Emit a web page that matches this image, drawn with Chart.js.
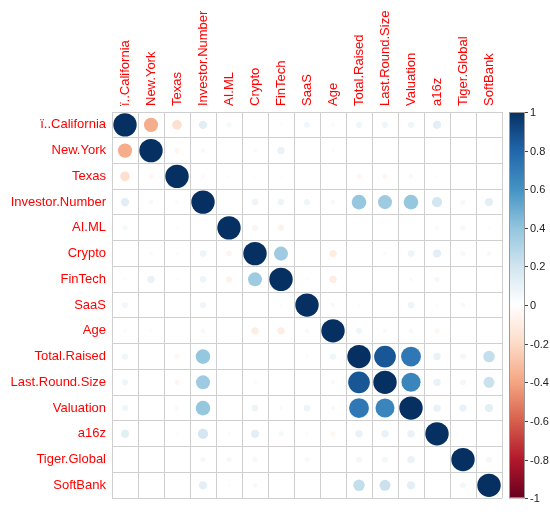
<!DOCTYPE html>
<html>
<head>
<meta charset="utf-8">
<script src="https://cdn.jsdelivr.net/npm/chart.js@4"></script>
<style>
  body { margin: 0; background: #fff; }
</style>
</head>
<body>
<canvas id="corrChart" width="550" height="512"></canvas>
<script>
// variable names (same order for rows and columns)
const varNames = ['ï..California', 'New.York', 'Texas', 'Investor.Number', 'AI.ML', 'Crypto', 'FinTech',
    'SaaS', 'Age', 'Total.Raised', 'Last.Round.Size', 'Valuation', 'a16z', 'Tiger.Global', 'SoftBank'];

// correlation values, one row per variable
const corrRows = [
    [1, -0.37, -0.17, 0.13, 0.05, 0.01, -0.02, 0.06, -0.03, 0.07, 0.07, 0.07, 0.12, 0.01, 0.01],
    [-0.37, 1, -0.05, 0.04, -0.01, 0.03, 0.10, 0.01, -0.02, 0.01, 0.01, 0.005, 0, 0, 0.01],
    [-0.17, -0.05, 1, -0.03, -0.02, 0.02, 0.02, 0.005, -0.01, -0.05, -0.05, -0.04, -0.02, 0.005, -0.01],
    [0.13, 0.04, -0.03, 1, 0, 0.08, 0.08, 0.07, 0.04, 0.39, 0.36, 0.39, 0.19, 0.05, 0.12],
    [0.05, -0.01, -0.02, 0, 1, -0.06, -0.07, 0.01, 0.005, 0.01, 0.01, 0, -0.03, 0.05, 0.02],
    [0.01, 0.03, 0.02, 0.08, -0.06, 1, 0.36, 0.01, -0.10, 0.01, 0.03, 0.08, 0.12, 0.05, 0.04],
    [-0.02, 0.10, 0.02, 0.08, -0.07, 0.36, 1, 0.02, -0.10, 0.005, 0.005, 0.03, 0.05, 0.01, 0.01],
    [0.06, 0.01, 0.005, 0.07, 0.01, 0.01, 0.02, 1, 0.04, 0.02, 0.01, 0.08, 0.02, 0.04, 0.005],
    [-0.03, -0.02, -0.01, 0.04, 0.005, -0.10, -0.10, 0.04, 1, 0.07, 0.04, 0.04, -0.05, 0.005, 0.005],
    [0.07, 0.01, -0.05, 0.39, 0.01, 0.01, 0.005, 0.02, 0.07, 1, 0.86, 0.72, 0.10, 0.06, 0.24],
    [0.07, 0.01, -0.05, 0.36, 0.01, 0.03, 0.005, 0.01, 0.04, 0.86, 1, 0.66, 0.10, 0.06, 0.22],
    [0.07, 0.005, -0.04, 0.39, 0, 0.08, 0.03, 0.08, 0.04, 0.72, 0.66, 1, 0.10, 0.10, 0.12],
    [0.12, 0, -0.02, 0.19, -0.03, 0.12, 0.05, 0.02, -0.05, 0.10, 0.10, 0.10, 1, 0.01, 0.01],
    [0.01, 0, 0.005, 0.05, 0.05, 0.05, 0.01, 0.04, 0.005, 0.06, 0.06, 0.10, 0.01, 1, 0.06],
    [0.01, 0.01, -0.01, 0.12, 0.02, 0.04, 0.01, 0.005, 0.005, 0.24, 0.22, 0.12, 0.01, 0.06, 1]
];

// colour bar tick labels
const legendTicks = [1, 0.8, 0.6, 0.4, 0.2, 0, -0.2, -0.4, -0.6, -0.8, -1];

// RdBu palette, from -1 to 1
const palette = ['#67001F', '#B2182B', '#D6604D', '#F4A582', '#FDDBC7', '#FFFFFF',
    '#D1E5F0', '#92C5DE', '#4393C3', '#2166AC', '#053061'];

function hexToRgb(h) {
    return [parseInt(h.substr(1, 2), 16), parseInt(h.substr(3, 2), 16), parseInt(h.substr(5, 2), 16)];
}

function colorFor(v) {
    const t = (Math.max(-1, Math.min(1, v)) + 1) / 2 * (palette.length - 1);
    const i = Math.min(Math.floor(t), palette.length - 2);
    const f = t - i;
    const a = hexToRgb(palette[i]), b = hexToRgb(palette[i + 1]);
    const c = a.map((x, k) => Math.round(x + (b[k] - x) * f));
    return `rgb(${c[0]},${c[1]},${c[2]})`;
}

const FONT = '"Liberation Sans", Arial, sans-serif';
const CELL_RADIUS = 11.7; // 0.9 * half a cell, like corrplot

// build bubble points: area proportional to |r|
// (category scales need the label strings, not numbers)
const points = [];
corrRows.forEach((row, i) => {
    row.forEach((v, j) => {
        points.push({ x: varNames[j], y: varNames[i], v: v, r: CELL_RADIUS * Math.sqrt(Math.abs(v)) });
    });
});

// colour bar drawn next to the plot
const colorBarPlugin = {
    id: 'colorBar',
    afterDraw(chart) {
        const ctx = chart.ctx;
        const cb = chart.scales.cb;
        const top = cb.getPixelForValue(1);
        const bottom = cb.getPixelForValue(-1);
        const x0 = 509, w = 16;
        const grad = ctx.createLinearGradient(0, bottom, 0, top);
        palette.forEach((c, k) => grad.addColorStop(k / (palette.length - 1), c));
        ctx.save();
        ctx.fillStyle = grad;
        ctx.fillRect(x0, top, w, bottom - top);
        ctx.strokeStyle = '#999';
        ctx.lineWidth = 1;
        ctx.strokeRect(x0 + 0.5, top + 0.5, w - 1, bottom - top - 1);
        ctx.fillStyle = '#222';
        ctx.font = '11px ' + FONT;
        ctx.textAlign = 'left';
        ctx.textBaseline = 'middle';
        ctx.strokeStyle = '#444';
        legendTicks.forEach(t => {
            const y = Math.round(cb.getPixelForValue(t)) + 0.5;
            ctx.beginPath();
            ctx.moveTo(x0 + w, y);
            ctx.lineTo(x0 + w + 3, y);
            ctx.stroke();
            ctx.fillText(String(t), x0 + w + 5, y);
        });
        ctx.restore();
    }
};

const ctx = document.getElementById('corrChart').getContext('2d');
new Chart(ctx, {
    type: 'bubble',
    data: {
        datasets: [{
            data: points,
            backgroundColor: c => colorFor(c.raw.v),
            borderWidth: 0,
            hoverRadius: 0
        }]
    },
    options: {
        responsive: false,
        animation: false,
        layout: { padding: { left: 0, top: 0, right: 48, bottom: 10 } },
        plugins: {
            legend: { display: false },
            tooltip: { enabled: false }
        },
        scales: {
            x: {
                type: 'category',
                labels: varNames,
                position: 'top',
                offset: true,
                grid: { offset: true, color: '#cfcfcf', drawTicks: false },
                border: { color: '#cfcfcf' },
                ticks: {
                    color: '#ff0000',
                    font: { family: FONT, size: 13 },
                    minRotation: 90,
                    maxRotation: 90,
                    padding: 6,
                    labelOffset: 16,
                    autoSkip: false
                },
                afterFit(scale) { scale.height = 112; }
            },
            y: {
                type: 'category',
                labels: varNames,
                offset: true,
                grid: { offset: true, color: '#cfcfcf', drawTicks: false },
                border: { color: '#cfcfcf' },
                ticks: {
                    color: '#ff0000',
                    font: { family: FONT, size: 13 },
                    padding: 6,
                    autoSkip: false
                },
                afterFit(scale) { scale.width = 112; }
            },
            cb: {
                type: 'linear',
                axis: 'y',
                position: 'right',
                display: false,
                min: -1,
                max: 1
            }
        }
    },
    plugins: [colorBarPlugin]
});
</script>
</body>
</html>
